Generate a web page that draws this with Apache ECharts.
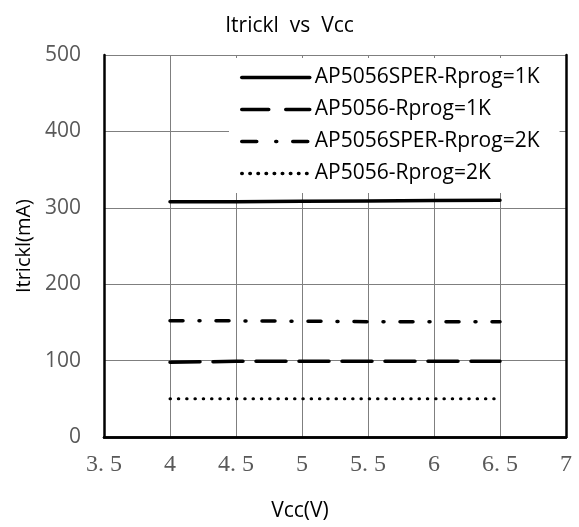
<!DOCTYPE html>
<html>
<head>
<meta charset="utf-8">
<script src="https://cdn.jsdelivr.net/npm/echarts@6/dist/echarts.min.js"></script>
<style>html,body{margin:0;padding:0;background:#fff}#c{width:579px;height:527px}</style>
</head>
<body>
<div id="c"></div>
<script>
var vcc = [4, 4.5, 5, 5.5, 6, 6.5];
var sper1K = [308, 308, 308.5, 309, 309.5, 310];
var ap1K = [98, 99, 99, 99, 99, 99];
var sper2K = [152, 152, 151.5, 151, 151, 151];
var ap2K = [50, 50, 50, 50, 50, 50];
var seriesNames = ['AP5056SPER-Rprog=1K', 'AP5056-Rprog=1K', 'AP5056SPER-Rprog=2K', 'AP5056-Rprog=2K'];

function pairs(xs, ys) { return xs.map(function (x, i) { return [x, ys[i]]; }); }

var dashTypes = ['solid', [30, 13], [13, 16, 1, 16], [0.5, 7.8]];
var legendDash = ['solid', [27, 17], [15, 19, 1, 16], [0.5, 7.6]];
var sansFont = '"Open Sans", "Noto Sans", sans-serif';

var chart = echarts.init(document.getElementById('c'), null, { renderer: 'canvas' });
var frameAxis = {
  axisLine: { show: true, lineStyle: { color: '#000', width: 2.5 } },
  axisTick: { show: false }, axisLabel: { show: false }, splitLine: { show: false }
};
chart.setOption({
  animation: false,
  backgroundColor: '#fff',
  title: {
    text: 'Itrickl  vs  Vcc',
    left: 'center',
    top: 11,
    textStyle: { fontFamily: sansFont, fontSize: 21, fontWeight: 'normal', color: '#000' }
  },
  grid: { left: 104, right: 13, top: 55, bottom: 88 },
  legend: {
    orient: 'vertical',
    left: 229,
    top: 58,
    itemWidth: 68,
    itemHeight: 12,
    itemGap: 11,
    itemStyle: { opacity: 0 },
    backgroundColor: '#fff',
    padding: [9, 20, 9, 11],
    textStyle: { fontFamily: sansFont, fontSize: 21, color: '#000' },
    data: seriesNames.map(function (n, i) {
      return { name: n, lineStyle: { type: legendDash[i], width: 3.5, color: '#000', cap: 'round' } };
    })
  },
  xAxis: [{
    type: 'value',
    min: 3.5, max: 7, interval: 0.5,
    name: 'Vcc(V)',
    nameLocation: 'middle',
    nameGap: 64,
    nameTextStyle: { fontFamily: sansFont, fontSize: 21, color: '#000', padding: [0, 70, 0, 0] },
    axisLine: { show: true, lineStyle: { color: '#000', width: 2.5 } },
    axisTick: { show: false },
    axisLabel: {
      margin: 16,
      fontFamily: '"Liberation Serif", "DejaVu Serif", serif',
      fontSize: 24,
      color: '#595959',
      formatter: function (v) { return String(v).replace('.', '. '); }
    },
    splitLine: { show: true, lineStyle: { color: '#7f7f7f', width: 1 } }
  }, Object.assign({ type: 'value', position: 'top', min: 3.5, max: 7, interval: 0.5 }, frameAxis)],
  yAxis: [{
    type: 'value',
    min: 0, max: 500, interval: 100,
    name: 'Itrickl(mA)',
    nameLocation: 'middle',
    nameGap: 69,
    nameTextStyle: { fontFamily: sansFont, fontSize: 20, color: '#000' },
    axisLine: { show: true, lineStyle: { color: '#000', width: 2.5 } },
    axisTick: { show: false },
    axisLabel: { margin: 23, fontFamily: sansFont, fontSize: 21, color: '#595959' },
    splitLine: { show: true, lineStyle: { color: '#7f7f7f', width: 1 } }
  }, Object.assign({ type: 'value', position: 'right', min: 0, max: 500, interval: 100 }, frameAxis)],
  series: seriesNames.map(function (n, i) {
    var ys = [sper1K, ap1K, sper2K, ap2K][i];
    return {
      name: n, type: 'line', symbol: 'none', data: pairs(vcc, ys),
      lineStyle: { color: '#000', width: i === 3 ? 3 : 3.5, type: dashTypes[i], cap: 'round' },
      itemStyle: { color: '#000' }
    };
  })
});
</script>
</body>
</html>
